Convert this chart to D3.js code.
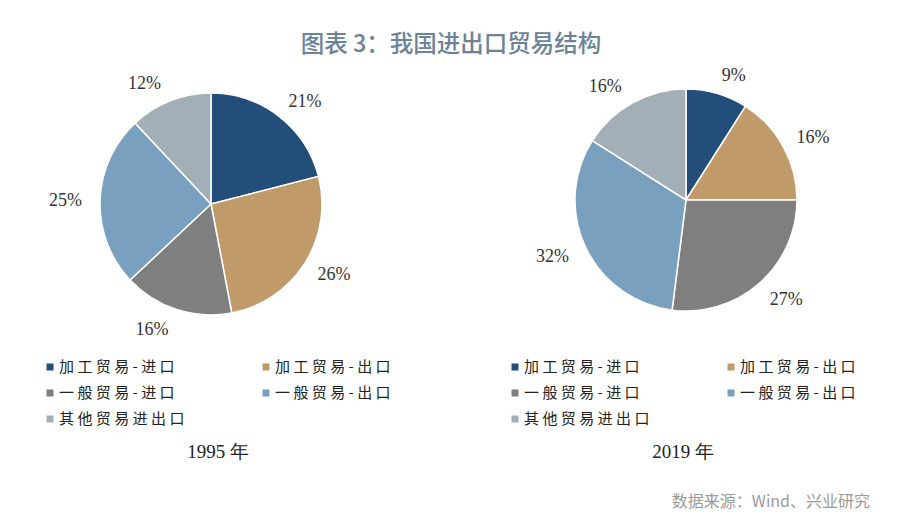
<!DOCTYPE html>
<html><head><meta charset="utf-8">
<script src="https://cdn.jsdelivr.net/npm/d3@7"></script>
<style>body{margin:0;background:#fff}</style>
</head><body>
<svg id="c" width="900" height="517"></svg>
<script>
const categories = ["加工贸易-进口","加工贸易-出口","一般贸易-进口","一般贸易-出口","其他贸易进出口"];
const values1995 = [21, 26, 16, 25, 12];
const values2019 = [9, 16, 27, 32, 16];
const years = ["1995 年", "2019 年"];
const colors = ["#234e79", "#c09b69", "#7f7f7f", "#7aa0c0", "#a3afb7"];
const titleText = "图表 3：我国进出口贸易结构";
const sourceText = "数据来源：Wind、兴业研究";

const svg = d3.select("#c");
svg.append("rect").attr("width",900).attr("height",517).attr("fill","#fff");

svg.append("text").attr("x",451).attr("y",52).attr("text-anchor","middle")
  .attr("font-family","'Noto Sans CJK SC'").attr("font-size",23.5).attr("font-weight",500)
  .attr("fill","#6b8298").text(titleText);

const color = d3.scaleOrdinal().domain(categories).range(colors);
const r = 111;
const pie = d3.pie().sort(null).value(d => d.v);
const arc = d3.arc().innerRadius(0).outerRadius(r);

function drawPie(cx, cy, vals, legendX, yearX, yearLabel) {
  const g = svg.append("g").attr("transform", `translate(${cx},${cy})`);
  const data = pie(categories.map((c,i)=>({c, v: vals[i]})));
  g.selectAll("path").data(data).enter().append("path")
    .attr("d", arc).attr("fill", d => color(d.data.c))
    .attr("stroke","#fff").attr("stroke-width",1.5);
  const lr = r + 14;
  data.forEach(d => {
    const a = (d.startAngle + d.endAngle)/2;
    const s = Math.sin(a), c = Math.cos(a);
    const px = lr*s, py = -lr*c;
    g.append("text")
      .attr("x", px + (s>=0 ? 1 : -4))
      .attr("y", py - c*6)
      .attr("dy","0.35em")
      .attr("text-anchor", s >= 0 ? "start" : "end")
      .attr("font-family","'Liberation Serif', serif").attr("font-size",18)
      .attr("fill","#333").text(d.data.v + "%");
  });
  // legend
  const lg = svg.append("g");
  categories.forEach((cat,i) => {
    const col = i % 2, row = Math.floor(i/2);
    const x = legendX + col*216, y = 367 + row*26;
    lg.append("rect").attr("x", x-3.5).attr("y", y-3.5).attr("width",7).attr("height",7).attr("fill", color(cat));
    lg.append("text").attr("x", x+9).attr("y", y).attr("dy","0.36em")
      .attr("font-family","'Noto Sans CJK SC'").attr("font-size",15).attr("letter-spacing",3.4)
      .attr("fill","#222").text(cat);
  });
  svg.append("text").attr("x", yearX).attr("y", 458).attr("text-anchor","middle")
    .attr("font-family","'Liberation Serif', serif").attr("font-size",19).attr("fill","#222")
    .text(yearLabel);
}
drawPie(211, 204, values1995, 50, 218, years[0]);
drawPie(686, 200, values2019, 515, 683, years[1]);

svg.append("text").attr("x",870).attr("y",507).attr("text-anchor","end")
  .attr("font-family","'Noto Sans CJK SC'").attr("font-size",16).attr("fill","#9a9a9a")
  .text(sourceText);
</script>
</body></html>
